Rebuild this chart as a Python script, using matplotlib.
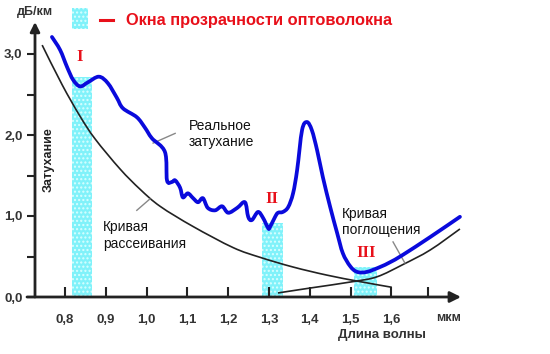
import numpy as np
import matplotlib
matplotlib.use('Agg')
import matplotlib.pyplot as plt
from matplotlib.path import Path
from matplotlib.patches import PathPatch, Rectangle
from matplotlib.lines import Line2D

plt.rcParams['font.family'] = ['Liberation Sans', 'DejaVu Sans']

# реальное затухание (синяя кривая), мкм / дБ/км
real_x = [0.768, 0.788, 0.805, 0.820, 0.837, 0.856, 0.883, 0.905, 0.927, 0.942,
          0.976, 0.996, 1.013, 1.045, 1.050, 1.062, 1.070, 1.082, 1.089, 1.101,
          1.114, 1.126, 1.138, 1.150, 1.168, 1.185, 1.200, 1.222, 1.241, 1.249,
          1.258, 1.273, 1.285, 1.298, 1.302, 1.315, 1.322, 1.334, 1.347, 1.359,
          1.369, 1.381, 1.393, 1.405, 1.418, 1.432, 1.450, 1.467, 1.481, 1.499,
          1.516, 1.540, 1.572, 1.597, 1.628, 1.695, 1.768]
real_y = [3.21, 3.05, 2.84, 2.68, 2.60, 2.65, 2.72, 2.64, 2.46, 2.33,
          2.22, 2.09, 1.96, 1.79, 1.44, 1.42, 1.44, 1.35, 1.23, 1.28,
          1.22, 1.17, 1.22, 1.10, 1.07, 1.12, 1.04, 1.10, 1.17, 0.99,
          0.95, 1.05, 0.98, 0.85, 0.86, 0.99, 1.04, 1.05, 1.11, 1.28,
          1.57, 2.06, 2.16, 2.06, 1.81, 1.48, 1.11, 0.79, 0.54, 0.38,
          0.31, 0.31, 0.37, 0.43, 0.52, 0.74, 0.99]

# кривая рассеивания
scat_x = [0.744, 0.793, 0.837, 0.874, 0.935, 0.984, 1.033, 1.114, 1.212,
          1.278, 1.359, 1.442, 1.523, 1.601]
scat_y = [3.11, 2.62, 2.23, 1.95, 1.58, 1.33, 1.12, 0.87, 0.61,
          0.49, 0.37, 0.27, 0.19, 0.12]

# кривая поглощения
abs_x = [1.322, 1.400, 1.506, 1.565, 1.628, 1.695, 1.768]
abs_y = [0.05, 0.11, 0.19, 0.25, 0.40, 0.58, 0.84]

# окна прозрачности
win_x0 = [0.817, 1.283, 1.508]
win_x1 = [0.866, 1.334, 1.565]
win_top = [2.72, 0.91, 0.37]
win_names = ['I', 'II', 'III']

xticks = [0.8, 0.9, 1.0, 1.1, 1.2, 1.3, 1.4, 1.5, 1.6, 1.69]
xlabels = ['0,8', '0,9', '1,0', '1,1', '1,2', '1,3', '1,4', '1,5', '1,6', '']
yticks = [0.0, 1.0, 2.0, 3.0]
ylabels = ['0,0', '1,0', '2,0', '3,0']
yminor = [0.5, 1.5, 2.5]

W, H = 550, 354
def fx(p):
    return p / W
def fy(q):
    return 1 - q / H

def smooth_path(xs, ys):
    # catmull-rom -> bezier, кривую рисует сам matplotlib
    P = np.column_stack([xs, ys])
    verts = [P[0]]
    codes = [Path.MOVETO]
    n = len(P)
    for i in range(n - 1):
        p0 = P[max(i - 1, 0)]
        p1 = P[i]
        p2 = P[i + 1]
        p3 = P[min(i + 2, n - 1)]
        c1 = p1 + (p2 - p0) / 6
        c2 = p2 - (p3 - p1) / 6
        verts += [c1, c2, p2]
        codes += [Path.CURVE4] * 3
    return Path(verts, codes)

fig = plt.figure(figsize=(5.5, 3.54), dpi=100)
ax = fig.add_axes([fx(35), fy(297), (448 - 35) / W, (297 - 33) / H])
ax.set_xlim(0.8 + (35 - 65) / 408, 0.8 + (448 - 65) / 408)
ax.set_ylim(0, (297 - 33) / 81)
for s in ax.spines.values():
    s.set_visible(False)
ax.patch.set_alpha(0)

axc = '#222222'
# оси со стрелками
ax.annotate('', xy=(0.8 + (461 - 65) / 408, 0), xytext=(0.8 + (27 - 65) / 408, 0),
            arrowprops=dict(arrowstyle='-|>', color=axc, lw=2, mutation_scale=16,
                            shrinkA=0, shrinkB=0), annotation_clip=False)
ax.annotate('', xy=(0.8 + (35 - 65) / 408, (297 - 22) / 81), xytext=(0.8 + (35 - 65) / 408, 0),
            arrowprops=dict(arrowstyle='-|>', color=axc, lw=2, mutation_scale=14,
                            shrinkA=0, shrinkB=0), annotation_clip=False)

ax.set_xticks(xticks)
ax.set_xticklabels(xlabels)
ax.set_yticks(yticks)
ax.set_yticklabels(ylabels)
ax.set_yticks(yminor, minor=True)
ax.tick_params(axis='x', direction='in', length=7, width=1.5, color=axc, pad=12,
               labelsize=9.5, labelcolor='#333333')
ax.tick_params(axis='y', which='both', direction='out', length=6, width=1.5, color=axc,
               pad=3, labelsize=9.5, labelcolor='#333333')
for lab in ax.get_xticklabels() + ax.get_yticklabels():
    lab.set_fontweight('bold')

# окна
for x0, x1, top in zip(win_x0, win_x1, win_top):
    ax.add_patch(Rectangle((x0, 0), x1 - x0, top, facecolor='#80f2fa',
                           edgecolor='#d9ffff', hatch='....', lw=0, zorder=1))

ax.add_patch(PathPatch(smooth_path(scat_x, scat_y), fill=False, ec='#222222', lw=1.2,
                       zorder=3, clip_on=False))
ax.add_patch(PathPatch(smooth_path(abs_x, abs_y), fill=False, ec='#222222', lw=1.2,
                       zorder=3, clip_on=False))
ax.add_patch(PathPatch(smooth_path(real_x, real_y), fill=False, ec='#0a0adc', lw=2.7,
                       zorder=4, capstyle='round', joinstyle='round', clip_on=False))

# римские номера окон
for name, (x, y) in zip(win_names, [(0.837, 2.96), (1.307, 1.21), (1.538, 0.54)]):
    ax.text(x, y, name, color='#e8101a', fontsize=12, fontweight='bold',
            family='Liberation Serif', ha='center', va='center', zorder=5)

# подписи кривых
ax.text(1.104, 2.01, 'Реальное\nзатухание', fontsize=10, ha='left', va='center',
        linespacing=1.2, color='#111111', zorder=5)
ax.plot([1.070, 1.016], [2.02, 1.90], color='#888888', lw=1, zorder=3)
ax.text(0.893, 0.76, 'Кривая\nрассеивания', fontsize=10, ha='left', va='center',
        linespacing=1.2, color='#111111', zorder=5)
ax.plot([0.976, 1.008], [1.07, 1.21], color='#888888', lw=1, zorder=3)
ax.text(1.479, 0.93, 'Кривая\nпоглощения', fontsize=10, ha='left', va='center',
        linespacing=1.2, color='#111111', zorder=5)
ax.plot([1.604, 1.633], [0.68, 0.42], color='#888888', lw=1, zorder=3)

ax.text(0.760, 1.69, 'Затухание', rotation=90, fontsize=9, fontweight='bold',
        ha='center', va='center', color='#222222')

# подписи осей и легенда
fig.text(fx(17), fy(12), 'дБ/км', fontsize=9, fontweight='bold', color='#333333',
         ha='left', va='center')
fig.text(fx(449), fy(318), 'мкм', fontsize=9, fontweight='bold', color='#333333',
         ha='center', va='center')
fig.text(fx(382), fy(335), 'Длина волны', fontsize=9.5, fontweight='bold', color='#333333',
         ha='center', va='center')
fig.add_artist(Rectangle((fx(72), fy(29)), 16 / W, 21 / H, transform=fig.transFigure,
                         facecolor='#80f2fa', edgecolor='#d9ffff', hatch='....', lw=0))
fig.add_artist(Line2D([fx(100), fx(113)], [fy(20), fy(20)], transform=fig.transFigure,
                      color='#e8101a', lw=2.2))
fig.text(fx(126), fy(20), 'Окна прозрачности оптоволокна', fontsize=11.8, fontweight='bold',
         color='#e8101a', ha='left', va='center')

fig.savefig('out.png', dpi=100)
